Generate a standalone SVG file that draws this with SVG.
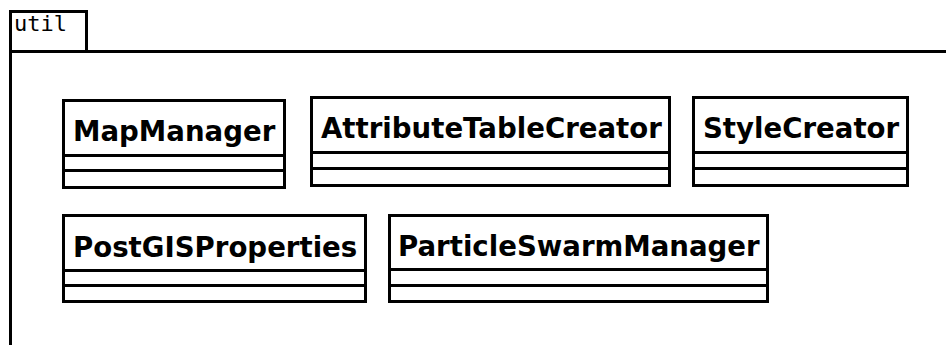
<svg xmlns="http://www.w3.org/2000/svg" width="946" height="345" viewBox="0 0 946 345">
  <style>
    .frame { fill: none; stroke: #000; stroke-width: 3; }
    .box { fill: #fff; stroke: #000; stroke-width: 3; }
    .sep { stroke: #000; stroke-width: 3; }
    .pkg { font-family: "DejaVu Sans Mono", "Liberation Mono", monospace; font-size: 22px; fill: #000; }
    .name { font-family: "DejaVu Sans", "Liberation Sans", sans-serif; font-weight: bold; font-size: 27.6px; fill: #000; }
  </style>
  <rect width="946" height="345" fill="#fff"/>

  <!-- package frame: util -->
  <g id="package-util">
    <rect class="frame" x="10.5" y="11.5" width="76" height="40"/>
    <path class="frame" d="M10.5 51.5 H950 M10.5 51.5 V350"/>
    <text class="pkg" x="14" y="31">util</text>
  </g>

  <!-- classes -->
  <g id="MapManager">
    <rect class="box" x="63.5" y="100.5" width="221" height="87"/>
    <line class="sep" x1="63.5" y1="155.5" x2="284.5" y2="155.5"/>
    <line class="sep" x1="63.5" y1="170.5" x2="284.5" y2="170.5"/>
    <text class="name" x="73" y="141">MapManager</text>
  </g>

  <g id="AttributeTableCreator">
    <rect class="box" x="311.5" y="97.5" width="358" height="88"/>
    <line class="sep" x1="311.5" y1="152.5" x2="669.5" y2="152.5"/>
    <line class="sep" x1="311.5" y1="168.5" x2="669.5" y2="168.5"/>
    <text class="name" x="321" y="138">AttributeTableCreator</text>
  </g>

  <g id="StyleCreator">
    <rect class="box" x="693.5" y="97.5" width="214" height="88"/>
    <line class="sep" x1="693.5" y1="152.5" x2="907.5" y2="152.5"/>
    <line class="sep" x1="693.5" y1="168.5" x2="907.5" y2="168.5"/>
    <text class="name" x="703" y="138">StyleCreator</text>
  </g>

  <g id="PostGISProperties">
    <rect class="box" x="63.5" y="215.5" width="302" height="86"/>
    <line class="sep" x1="63.5" y1="270.5" x2="365.5" y2="270.5"/>
    <line class="sep" x1="63.5" y1="285.5" x2="365.5" y2="285.5"/>
    <text class="name" x="73" y="257">PostGISProperties</text>
  </g>

  <g id="ParticleSwarmManager">
    <rect class="box" x="389.5" y="215.5" width="378" height="86"/>
    <line class="sep" x1="389.5" y1="269.5" x2="767.5" y2="269.5"/>
    <line class="sep" x1="389.5" y1="285.5" x2="767.5" y2="285.5"/>
    <text class="name" x="398" y="256">ParticleSwarmManager</text>
  </g>

  <!-- no associations between the classes -->
  <g id="connectors"/>
</svg>
